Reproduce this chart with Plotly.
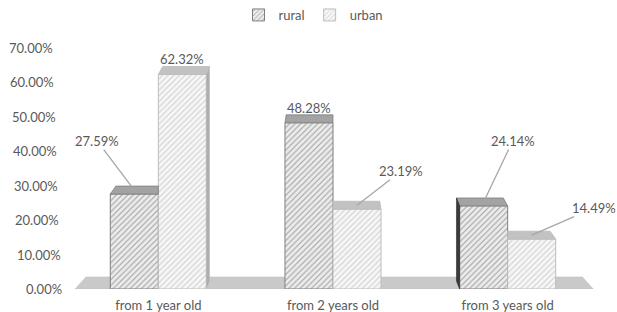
import plotly.graph_objects as go

# ---- data ----
categories = ["from 1 year old", "from 2 years old", "from 3 years old"]
series_names = ["rural", "urban"]
rural = [0.2759, 0.4828, 0.2414]
urban = [0.6232, 0.2319, 0.1449]
ytick_vals = [0.0, 0.1, 0.2, 0.3, 0.4, 0.5, 0.6, 0.7]
ytick_text = ["0.00%", "10.00%", "20.00%", "30.00%", "40.00%", "50.00%", "60.00%", "70.00%"]

# ---- style ----
FONT = "Lato, 'Open Sans', sans-serif"
FS = 13
TXT = "#595959"
BARGAP = 0.45
BW = (1 - BARGAP) / 2          # width of one bar in category units
DEPTH_Y = 0.023                # 3D depth (vertical, data units)
PERSP = 0.025                  # perspective shift factor toward vanishing point
VP = 1.0                       # vanishing point x (category units)

styles = {
    "rural": dict(bg="#ececec", fg="#a2a2a2", line="#7f7f7f", top="#a3a3a3", side="#3a3a3a"),
    "urban": dict(bg="#f7f7f7", fg="#cfcfcf", line="#bdbdbd", top="#c2c2c2", side="#adadad"),
}
# label placement: (ax, ay) offsets in px of label from leader-line head; None => label just above bar
label_offsets = {
    ("rural", 0): (-37, -49), ("urban", 0): None,
    ("rural", 1): None, ("urban", 1): (44, -34),
    ("rural", 2): (29, -61), ("urban", 2): (62, -27),
}

xs = list(range(len(categories)))
values = {"rural": rural, "urban": urban}

fig = go.Figure()
for i, name in enumerate(series_names):
    st = styles[name]
    fig.add_trace(go.Bar(
        name=name, x=xs, y=values[name],
        marker=dict(color=st["bg"], line=dict(color=st["line"], width=1),
                    pattern=dict(shape="/", size=4, solidity=0.28,
                                 fgcolor=st["fg"], bgcolor=st["bg"], fillmode="replace")),
        hoverinfo="skip",
    ))

shapes = []
# floor
fl_front = (-0.477, 2.49)
fl_back = (-0.414, 2.428)
shapes.append(dict(
    type="path", xref="x", yref="y", layer="below",
    path=f"M {fl_front[0]},0 L {fl_front[1]},0 L {fl_back[1]},0.035 L {fl_back[0]},0.035 Z",
    fillcolor="#c9c9c9", line=dict(color="#bdbdbd", width=0.5)))

annotations = []
for c in xs:
    for s_i, name in enumerate(series_names):
        v = values[name][c]
        x0 = c - BW + s_i * BW
        x1 = x0 + BW
        other = values[series_names[1 - s_i]][c]
        right_nb = other if s_i == 0 else None
        left_nb = other if s_i == 1 else None
        dx0 = (VP - x0) * PERSP
        dx1 = (VP - x1) * PERSP
        bx0, bx1 = x0 + dx0, x1 + dx1
        if right_nb is not None and right_nb > v:
            bx1 = min(bx1, x1)
        if left_nb is not None and left_nb > v:
            bx0 = max(bx0, x0)
        st = styles[name]
        # top face
        shapes.append(dict(
            type="path", xref="x", yref="y", layer="above",
            path=f"M {x0},{v} L {x1},{v} L {bx1},{v + DEPTH_Y} L {bx0},{v + DEPTH_Y} Z",
            fillcolor=st["top"], line=dict(color=st["line"], width=0.8)))
        # side faces
        if x1 < VP and dx1 > 0.002:
            base = right_nb if (right_nb is not None and right_nb < v) else (0 if right_nb is None else None)
            if base is not None:
                shapes.append(dict(
                    type="path", xref="x", yref="y", layer="above",
                    path=f"M {x1},{base} L {x1},{v} L {x1 + dx1},{v + DEPTH_Y} L {x1 + dx1},{base + DEPTH_Y} Z",
                    fillcolor=st["side"], line=dict(color=st["line"], width=0.6)))
        if x0 > VP and dx0 < -0.002:
            base = left_nb if (left_nb is not None and left_nb < v) else (0 if left_nb is None else None)
            if base is not None:
                shapes.append(dict(
                    type="path", xref="x", yref="y", layer="above",
                    path=f"M {x0},{base} L {x0},{v} L {x0 + dx0},{v + DEPTH_Y} L {x0 + dx0},{base + DEPTH_Y} Z",
                    fillcolor=st["side"], line=dict(color="#2a2a2a", width=0.6)))
        # data label
        off = label_offsets[(name, c)]
        text = f"{v * 100:.2f}%"
        xc = (x0 + x1) / 2
        if off is None:
            annotations.append(dict(x=xc, y=v, xref="x", yref="y", text=text, showarrow=False,
                                    yanchor="bottom", yshift=5,
                                    font=dict(family=FONT, size=FS, color=TXT)))
        else:
            annotations.append(dict(x=xc, y=v + DEPTH_Y / 2, xref="x", yref="y", text=text,
                                    showarrow=True, arrowhead=0, arrowwidth=1.3, arrowcolor="#a6a6a6",
                                    ax=off[0], ay=off[1], standoff=0, borderpad=0,
                                    font=dict(family=FONT, size=FS, color=TXT)))

# slanted y tick labels (3D perspective axis)
for v, t in zip(ytick_vals, ytick_text):
    annotations.append(dict(x=0, y=v, xref="paper", yref="y", text=t, showarrow=False,
                            xanchor="right", xshift=-(7 + 9 * v / 0.7),
                            font=dict(family=FONT, size=FS, color=TXT)))

fig.update_layout(
    width=617, height=312,
    margin=dict(l=71, r=22, t=48, b=23, autoexpand=False),
    paper_bgcolor="white", plot_bgcolor="white",
    barmode="group", bargap=BARGAP, bargroupgap=0,
    font=dict(family=FONT, size=FS, color=TXT),
    showlegend=True,
    legend=dict(orientation="h", x=0.5 + 5 / 617, xanchor="center", xref="container",
                y=1 - 15 / 312, yanchor="middle", yref="container",
                font=dict(family=FONT, size=FS, color=TXT), itemwidth=30,
                bgcolor="rgba(0,0,0,0)"),
    xaxis=dict(range=[-0.5, 2.5], tickvals=xs, ticktext=categories, showgrid=False,
               zeroline=False, showline=False, ticks="outside", ticklen=4,
               tickcolor="rgba(0,0,0,0)", tickfont=dict(family=FONT, size=FS, color=TXT)),
    yaxis=dict(range=[0, 0.7], showgrid=False, zeroline=False, showline=False,
               showticklabels=False, tickvals=ytick_vals),
    shapes=shapes, annotations=annotations,
)

fig.write_html("out.html", config={"displayModeBar": False},
               post_script="document.body.style.margin='0';")
